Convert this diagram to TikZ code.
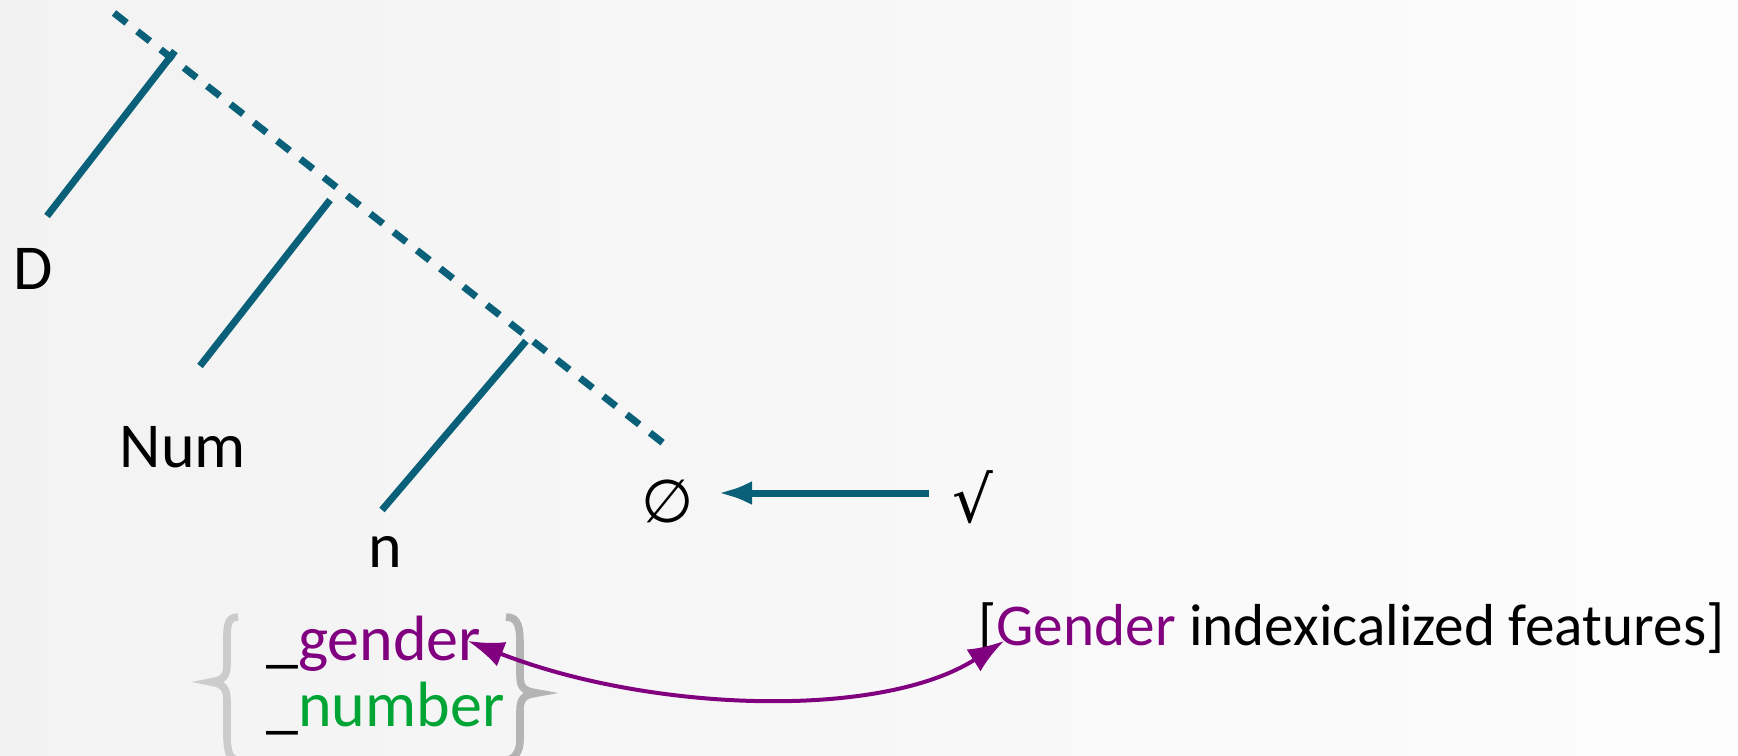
\documentclass[tikz,border=0pt]{standalone}
\usepackage{fontspec}
\setmainfont{Carlito}
\newfontfamily\symfont{DejaVu Sans}
\usetikzlibrary{arrows.meta}
\definecolor{teal1}{HTML}{0A6078}
\definecolor{purp}{HTML}{800080}
\definecolor{grn}{HTML}{00A535}
\definecolor{brL}{HTML}{CCCCCC}
\definecolor{brR}{HTML}{B4B4B4}
\tikzset{
  lbl/.style={font=\fontsize{32}{36}\selectfont, inner sep=0pt},
  branch/.style={draw=teal1, line width=3.5pt},
  spine/.style={draw=teal1, line width=3.5pt, dash pattern=on 8pt off 6.8pt},
  movearrow/.style={draw=teal1, line width=3.5pt, -{Latex[length=17pt,width=12pt]}},
  agree/.style={draw=purp, line width=2pt, {Latex[length=18pt,width=13pt]}-{Latex[length=18pt,width=13pt]}},
  bracel/.style={draw=brL, line width=3.8pt},
  bracer/.style={draw=brR, line width=3.8pt},
}
\begin{document}
\begin{tikzpicture}[x=0.5pt,y=-0.5pt]
\useasboundingbox (0,0) rectangle (1738,755);
\shade[left color=white!95!black, right color=white!99!black] (0,0) rectangle (1738,755);
\begin{scope}
\clip (0,0) rectangle (1738,755);
% spine
\coordinate (top) at (114,13);
\coordinate (bot) at (663,443);
\draw[spine] (top) -- (bot);
% branches
\coordinate (dT) at (175,51);  \coordinate (dB) at (47,216);
\coordinate (numT) at (330,200); \coordinate (numB) at (200,366);
\coordinate (nT) at (526,341); \coordinate (nB) at (382,510);
\draw[branch] (dT) -- (dB);
\draw[branch] (numT) -- (numB);
\draw[branch] (nT) -- (nB);
\node[lbl] (D) at (33,269) {D};
\node[lbl] (Num) at (183,447) {Num};
\node[lbl] (n) at (385,552) {n};
\node[lbl,font=\symfont\fontsize{30}{34}\selectfont] (empty) at (668,501) {∅};
\node[lbl,font=\symfont\fontsize{32}{36}\selectfont] (root) at (973,497) {√};
\coordinate (arrS) at (929,493);
\coordinate (arrE) at (718,493);
\draw[movearrow] (arrS) -- (arrE);
\node[lbl, anchor=base west] (feat) at (978,645) {\resizebox{373pt}{!}{[\textcolor{purp}{Gender} indexicalized features]}};
% features
\node[lbl, anchor=base west] (gender) at (266,660) {\_\textcolor{purp}{gender}};
\node[lbl, anchor=base west] (number) at (266,726) {\_\textcolor{grn}{number}};
% braces
\draw[bracel] (238,617) .. controls (226,617) and (227,628) .. (227,646)
  -- (227,664) .. controls (227,677) and (223,680) .. (211,682)
  .. controls (223,684) and (227,688) .. (227,701) -- (227,735)
  .. controls (227,752) and (230,760) .. (238,760);
\draw[bracer] (506,617) .. controls (519,617) and (520,628) .. (520,646)
  -- (520,675) .. controls (520,688) and (524,691) .. (537,693)
  .. controls (524,695) and (520,698) .. (520,711) -- (520,740)
  .. controls (520,752) and (514,760) .. (506,760);
% agreement arrow
\coordinate (gTip) at (468,641);
\coordinate (fTip) at (1004,641);
\draw[agree] (gTip) .. controls (650,712) and (880,720) .. (fTip);
\end{scope}
\end{tikzpicture}
\end{document}
